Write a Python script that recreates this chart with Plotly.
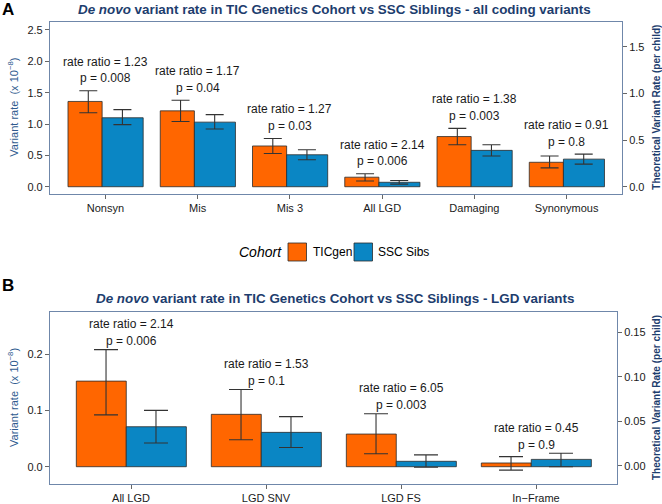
import plotly.graph_objects as go

# panel A: all coding variants (rate x 10^-8)
cats_a = ["Nonsyn", "Mis", "Mis 3", "All LGD", "Damaging", "Synonymous"]
tic_a = [1.36, 1.21, 0.65, 0.152, 0.80, 0.39]
tic_lo_a = [1.18, 1.04, 0.53, 0.092, 0.67, 0.30]
tic_hi_a = [1.53, 1.38, 0.77, 0.208, 0.93, 0.49]
ssc_a = [1.10, 1.03, 0.51, 0.071, 0.58, 0.44]
ssc_lo_a = [0.99, 0.92, 0.43, 0.042, 0.49, 0.36]
ssc_hi_a = [1.23, 1.15, 0.59, 0.100, 0.67, 0.52]
ratio_a = ["1.23", "1.17", "1.27", "2.14", "1.38", "0.91"]
p_a = ["0.008", "0.04", "0.03", "0.006", "0.003", "0.8"]

# panel B: LGD variants
cats_b = ["All LGD", "LGD SNV", "LGD FS", "In\u2212Frame"]
tic_b = [0.152, 0.093, 0.058, 0.0066]
tic_lo_b = [0.092, 0.048, 0.023, -0.006]
tic_hi_b = [0.208, 0.137, 0.094, 0.018]
ssc_b = [0.071, 0.061, 0.0096, 0.013]
ssc_lo_b = [0.042, 0.034, -0.001, 0.0]
ssc_hi_b = [0.100, 0.089, 0.021, 0.024]
ratio_b = ["2.14", "1.53", "6.05", "0.45"]
p_b = ["0.006", "0.1", "0.003", "0.9"]

ORANGE = "#FF6600"
BLUE = "#0A86C4"
EDGE = "#2b2b2b"
FRAME = "#6F87AA"
NAVY = "#1D3D6E"
STEEL = "#2F5B8F"
FONT = "Liberation Sans, Arial, sans-serif"

W, H = 662, 504
def px(x):
    return x / W
def py(y):
    return 1 - y / H

fig = go.Figure()

def add_panel(xa, ya, cats, tic, tlo, thi, ssc, slo, shi, cap):
    xs = list(range(len(cats)))
    fig.add_trace(go.Bar(x=xs, y=tic, width=0.37, offset=-0.405, marker=dict(color=ORANGE, line=dict(color=EDGE, width=0.8)),
                         name="TICgen", showlegend=False, xaxis=xa, yaxis=ya))
    fig.add_trace(go.Bar(x=xs, y=ssc, width=0.445, offset=-0.035, marker=dict(color=BLUE, line=dict(color=EDGE, width=0.8)),
                         name="SSC Sibs", showlegend=False, xaxis=xa, yaxis=ya))
    # error bars
    for vals, lo, hi, shift in [(tic, tlo, thi, -0.185), (ssc, slo, shi, 0.185)]:
        fig.add_trace(go.Scatter(
            x=[i + shift for i in xs], y=vals, mode="markers",
            marker=dict(size=1, color="rgba(0,0,0,0)"),
            error_y=dict(type="data", symmetric=False,
                         array=[h - v for h, v in zip(hi, vals)],
                         arrayminus=[v - l for v, l in zip(vals, lo)],
                         color="#333333", thickness=1.1, width=cap),
            showlegend=False, hoverinfo="skip", xaxis=xa, yaxis=ya))

add_panel("x", "y", cats_a, tic_a, tic_lo_a, tic_hi_a, ssc_a, ssc_lo_a, ssc_hi_a, 9)
add_panel("x2", "y3", cats_b, tic_b, tic_lo_b, tic_hi_b, ssc_b, ssc_lo_b, ssc_hi_b, 12)
# dummy traces so the right-hand axes are drawn
fig.add_trace(go.Scatter(x=[0], y=[0], mode="markers", marker=dict(size=1, color="rgba(0,0,0,0)"),
                         showlegend=False, hoverinfo="skip", xaxis="x", yaxis="y2"))
fig.add_trace(go.Scatter(x=[0], y=[0], mode="markers", marker=dict(size=1, color="rgba(0,0,0,0)"),
                         showlegend=False, hoverinfo="skip", xaxis="x2", yaxis="y4"))

tickfont = dict(family=FONT, size=11, color="#1a1a1a")
common = dict(showgrid=False, zeroline=False, ticks="outside", ticklen=4, tickcolor="#666666",
              tickfont=tickfont, showline=True, linecolor=FRAME, linewidth=1.2, mirror=True)

fig.update_layout(
    width=W, height=H, margin=dict(l=0, r=0, t=0, b=0),
    paper_bgcolor="white", plot_bgcolor="white", barmode="overlay",
    xaxis=dict(domain=[px(50), px(622)], anchor="y", range=[-0.6, len(cats_a) - 0.4],
               tickvals=list(range(len(cats_a))), ticktext=cats_a, **common),
    yaxis=dict(domain=[py(193.5), py(22)], anchor="x", range=[-0.108, 2.627],
               tickvals=[0, 0.5, 1, 1.5, 2, 2.5], ticktext=["0.0", "0.5", "1.0", "1.5", "2.0", "2.5"], **common),
    yaxis2=dict(overlaying="y", side="right", anchor="x", range=[-0.073, 1.765],
                tickvals=[0, 0.5, 1, 1.5], ticktext=["0.0", "0.5", "1.0", "1.5"],
                showgrid=False, zeroline=False, ticks="outside", ticklen=4, tickcolor="#666666", tickfont=tickfont),
    xaxis2=dict(domain=[px(50), px(617)], anchor="y3", range=[-0.6, len(cats_b) - 0.4],
                tickvals=list(range(len(cats_b))), ticktext=cats_b, **common),
    yaxis3=dict(domain=[py(484), py(312.3)], anchor="x2", range=[-0.0307, 0.2742],
                tickvals=[0, 0.1, 0.2], ticktext=["0.0", "0.1", "0.2"], **common),
    yaxis4=dict(overlaying="y3", side="right", anchor="x2", range=[-0.0206, 0.1724],
                tickvals=[0, 0.05, 0.1, 0.15], ticktext=["0.00", "0.05", "0.10", "0.15"],
                showgrid=False, zeroline=False, ticks="outside", ticklen=4, tickcolor="#666666", tickfont=tickfont),
)

ann = []
# rate ratio / p labels, placed above the highest error bar of each pair
for xa, ya, thi, shi, ratio, pv, gap in [("x", "y", tic_hi_a, ssc_hi_a, ratio_a, p_a, 0.465),
                                         ("x2", "y3", tic_hi_b, ssc_hi_b, ratio_b, p_b, 0.045)]:
    for i, (a, b, r, p) in enumerate(zip(thi, shi, ratio, pv)):
        top = max(a, b) + gap
        ann.append(dict(x=i, y=top, xref=xa, yref=ya, text="rate ratio = " + r, showarrow=False,
                        font=dict(family=FONT, size=12, color="#1a1a1a"), yanchor="middle"))
        ann.append(dict(x=i, y=top, xref=xa, yref=ya, text="p = " + p, showarrow=False, yshift=-16.7,
                        font=dict(family=FONT, size=12, color="#1a1a1a"), yanchor="middle"))

# titles and panel letters
ann.append(dict(x=px(335), y=py(9.5), xref="paper", yref="paper", showarrow=False,
                text="<b><i>De novo</i> variant rate in TIC Genetics Cohort vs SSC Siblings - all coding variants</b>",
                font=dict(family=FONT, size=13.4, color=NAVY), xanchor="center", yanchor="middle"))
ann.append(dict(x=px(334.5), y=py(298), xref="paper", yref="paper", showarrow=False,
                text="<b><i>De novo</i> variant rate in TIC Genetics Cohort vs SSC Siblings - LGD variants</b>",
                font=dict(family=FONT, size=13.4, color=NAVY), xanchor="center", yanchor="middle"))
ann.append(dict(x=px(0), y=py(9), xref="paper", yref="paper", showarrow=False, text="<b>A</b>",
                font=dict(family=FONT, size=17, color="black"), xanchor="left", yanchor="middle"))
ann.append(dict(x=px(0), y=py(285), xref="paper", yref="paper", showarrow=False, text="<b>B</b>",
                font=dict(family=FONT, size=17, color="black"), xanchor="left", yanchor="middle"))

# axis titles
for yc, xr in [(107.7, 657), (398, 656)]:
    ann.append(dict(x=px(13), y=py(yc), xref="paper", yref="paper", showarrow=False, textangle=-90,
                    text="Variant rate  (x 10<sup>\u22128</sup>)", font=dict(family=FONT, size=11, color=STEEL),
                    xanchor="center", yanchor="middle"))
    ann.append(dict(x=px(xr), y=py(yc), xref="paper", yref="paper", showarrow=False, textangle=-90,
                    text="<b>Theoretical Variant Rate (per child)</b>", font=dict(family=FONT, size=10, color=NAVY),
                    xanchor="center", yanchor="middle"))

# legend
ann.append(dict(x=px(283.5), y=py(252), xref="paper", yref="paper", showarrow=False, text="<i>Cohort</i>",
                font=dict(family=FONT, size=14, color="black"), xanchor="right", yanchor="middle"))
ann.append(dict(x=px(311), y=py(252), xref="paper", yref="paper", showarrow=False, text="TICgen",
                font=dict(family=FONT, size=12, color="black"), xanchor="left", yanchor="middle"))
ann.append(dict(x=px(376), y=py(252), xref="paper", yref="paper", showarrow=False, text="SSC Sibs",
                font=dict(family=FONT, size=12, color="black"), xanchor="left", yanchor="middle"))
shapes = []
for x0, col in [(288, ORANGE), (354, BLUE)]:
    shapes.append(dict(type="rect", xref="paper", yref="paper", x0=px(x0), x1=px(x0 + 18.5),
                       y0=py(261), y1=py(243), fillcolor=col, line=dict(color=EDGE, width=0.8)))

fig.update_layout(annotations=ann, shapes=shapes)
# drop the browser's default 8px body margin so the figure fills the window
fig.write_html("out.html", config={"displayModeBar": False},
               post_script="document.body.style.margin='0px';")
